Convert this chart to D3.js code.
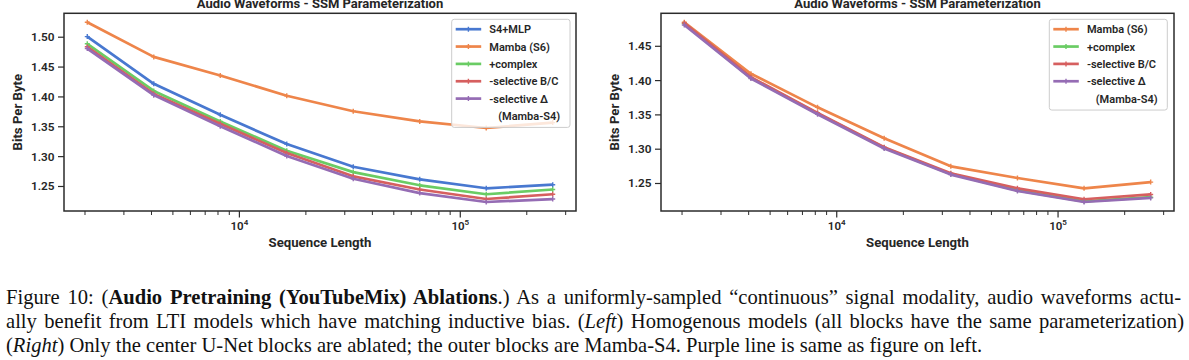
<!DOCTYPE html>
<html><head><meta charset="utf-8">
<script src="https://cdn.jsdelivr.net/npm/d3@7"></script>
<style>
html,body{margin:0;padding:0;background:#fff;}
svg{display:block;}
</style></head>
<body>
<svg id="c" width="1189" height="360"></svg>
<script>
// ---------------- data ----------------
const seqLen = [2048, 4096, 8192, 16384, 32768, 65536, 131072, 262144];

const leftNames = ["S4+MLP", "Mamba (S6)", "+complex", "-selective B/C", "-selective \u0394"];
const leftS4MLP   = [1.501, 1.422, 1.370, 1.321, 1.283, 1.262, 1.247, 1.253];
const leftMambaS6 = [1.525, 1.467, 1.436, 1.402, 1.376, 1.359, 1.348, 1.357];
const leftComplex = [1.489, 1.410, 1.359, 1.310, 1.274, 1.252, 1.237, 1.245];
const leftSelBC   = [1.484, 1.405, 1.355, 1.306, 1.267, 1.245, 1.229, 1.237];
const leftSelDelta= [1.481, 1.403, 1.351, 1.301, 1.263, 1.239, 1.224, 1.229];

const rightNames = ["Mamba (S6)", "+complex", "-selective B/C", "-selective \u0394"];
const rightMambaS6 = [1.485, 1.410, 1.361, 1.316, 1.275, 1.258, 1.243, 1.252];
const rightComplex = [1.483, 1.404, 1.352, 1.302, 1.264, 1.240, 1.224, 1.230];
const rightSelBC   = [1.484, 1.405, 1.353, 1.303, 1.265, 1.243, 1.227, 1.234];
const rightSelDelta= [1.481, 1.403, 1.351, 1.301, 1.263, 1.239, 1.223, 1.229];

const yTicksLeft  = [1.25, 1.30, 1.35, 1.40, 1.45, 1.50];
const yTicksRight = [1.25, 1.30, 1.35, 1.40, 1.45];
const xMajorTicks = [1e4, 1e5];

const titleText = "Audio Waveforms - SSM Parameterization";
const xLabel = "Sequence Length";
const yLabel = "Bits Per Byte";

const colBlue = "#4878d0", colOrange = "#ee854a", colGreen = "#6acc64", colRed = "#d65f5f", colPurple = "#956cb4";

// ---------------- drawing ----------------
const svg = d3.select("#c");
const FONT = "Roboto, 'Liberation Sans', Arial, sans-serif";

function panel(opts) {
  const {x0, x1, y0, y1, series, yTicks, legend} = opts;
  const g = svg.append("g");
  const allVals = series.flatMap(s => s.values);
  const lo = d3.min(allVals), hi = d3.max(allVals), m = (hi - lo) * 0.05;
  const y = d3.scaleLinear().domain([lo - m, hi + m]).range([y1, y0]);
  const lx0 = Math.log10(seqLen[0]), lx1 = Math.log10(seqLen[seqLen.length - 1]);
  const lm = (lx1 - lx0) * 0.05;
  const x = d3.scaleLog().domain([Math.pow(10, lx0 - lm), Math.pow(10, lx1 + lm)]).range([x0, x1]);

  // lines
  const line = d3.line().x((d, i) => x(seqLen[i])).y(d => y(d));
  series.forEach(s => {
    g.append("path").attr("d", line(s.values)).attr("fill", "none")
      .attr("stroke", s.color).attr("stroke-width", 2.7).attr("stroke-linejoin", "round");
    g.selectAll(null).data(s.values).enter().append("path")
      .attr("d", (d, i) => {
        const px = x(seqLen[i]), py = y(d);
        return `M${px-2.5},${py}H${px+2.5}M${px},${py-2.5}V${py+2.5}`;
      })
      .attr("stroke", s.color).attr("stroke-width", 1.4);
  });

  // frame
  g.append("rect").attr("x", x0).attr("y", y0).attr("width", x1 - x0).attr("height", y1 - y0)
    .attr("fill", "none").attr("stroke", "#2b2b2b").attr("stroke-width", 1.5);

  // x ticks
  const dom = x.domain();
  const minor = [];
  for (let e = 3; e <= 5; e++) for (let k = 2; k <= 9; k++) {
    const v = k * Math.pow(10, e);
    if (v >= dom[0] && v <= dom[1]) minor.push(v);
  }
  g.selectAll(null).data(minor).enter().append("line")
    .attr("x1", d => x(d)).attr("x2", d => x(d)).attr("y1", y1).attr("y2", y1 + 4)
    .attr("stroke", "#2b2b2b").attr("stroke-width", 1);
  g.selectAll(null).data(xMajorTicks).enter().append("line")
    .attr("x1", d => x(d)).attr("x2", d => x(d)).attr("y1", y1).attr("y2", y1 + 6.5)
    .attr("stroke", "#2b2b2b").attr("stroke-width", 1.2);
  const xt = g.selectAll(null).data(xMajorTicks).enter().append("text")
    .attr("x", d => x(d)).attr("y", y1 + 18.5).attr("text-anchor", "middle")
    .attr("font-family", FONT).attr("font-size", 11.5).attr("font-weight", 600).attr("fill", "#262626");
  xt.append("tspan").text("10");
  xt.append("tspan").attr("dy", -5).attr("font-size", 8).text(d => String(Math.round(Math.log10(d))));

  // y ticks
  g.selectAll(null).data(yTicks).enter().append("line")
    .attr("x1", x0 - 6).attr("x2", x0).attr("y1", d => y(d)).attr("y2", d => y(d))
    .attr("stroke", "#2b2b2b").attr("stroke-width", 1.2);
  g.selectAll(null).data(yTicks).enter().append("text")
    .attr("x", x0 - 9.5).attr("y", d => y(d) + 4).attr("text-anchor", "end")
    .attr("font-family", FONT).attr("font-size", 11.8).attr("font-weight", 600).attr("fill", "#262626")
    .text(d => d3.format(".2f")(d));

  // labels
  g.append("text").attr("x", (x0 + x1) / 2).attr("y", 7.5).attr("text-anchor", "middle")
    .attr("font-family", FONT).attr("font-size", 13).attr("font-weight", 700).attr("fill", "#262626")
    .text(titleText);
  g.append("text").attr("x", (x0 + x1) / 2).attr("y", 247).attr("text-anchor", "middle")
    .attr("font-family", FONT).attr("font-size", 13.2).attr("font-weight", 700).attr("fill", "#262626")
    .text(xLabel);
  g.append("text").attr("transform", `translate(${x0 - 42},${(y0 + y1) / 2}) rotate(-90)`)
    .attr("text-anchor", "middle")
    .attr("font-family", FONT).attr("font-size", 13.2).attr("font-weight", 700).attr("fill", "#262626")
    .text(yLabel);

  // legend
  const L = legend;
  const rowH = 17.35;
  const nRows = series.length + 1;
  g.append("rect").attr("x", L.x).attr("y", 19.3).attr("width", L.w).attr("height", nRows * rowH + 4)
    .attr("rx", 2.5).attr("fill", "#fff").attr("fill-opacity", 0.8)
    .attr("stroke", "#cccccc").attr("stroke-width", 1);
  series.forEach((s, i) => {
    const cy = 29.2 + i * rowH;
    g.append("line").attr("x1", L.x + 4).attr("x2", L.x + 29.5).attr("y1", cy).attr("y2", cy)
      .attr("stroke", s.color).attr("stroke-width", 2.7);
    g.append("path").attr("d", `M${L.x+16.7-2.5},${cy}H${L.x+16.7+2.5}M${L.x+16.7},${cy-2.5}V${cy+2.5}`)
      .attr("stroke", s.color).attr("stroke-width", 1.4);
    g.append("text").attr("x", L.x + 37.6).attr("y", cy + 4)
      .attr("font-family", FONT).attr("font-size", 11).attr("font-weight", 600).attr("fill", "#262626")
      .text(s.name);
  });
  g.append("text").attr("x", L.x + 46.5).attr("y", 29.2 + series.length * rowH + 4)
    .attr("font-family", FONT).attr("font-size", 11).attr("font-weight", 600).attr("fill", "#262626")
    .text("(Mamba-S4)");
}

panel({
  x0: 64, x1: 576, y0: 13.3, y1: 211,
  yTicks: yTicksLeft,
  legend: {x: 451.7, w: 118.3},
  series: [
    {name: leftNames[0], color: colBlue, values: leftS4MLP},
    {name: leftNames[1], color: colOrange, values: leftMambaS6},
    {name: leftNames[2], color: colGreen, values: leftComplex},
    {name: leftNames[3], color: colRed, values: leftSelBC},
    {name: leftNames[4], color: colPurple, values: leftSelDelta}
  ]
});
panel({
  x0: 661, x1: 1174, y0: 13.3, y1: 211,
  yTicks: yTicksRight,
  legend: {x: 1049.3, w: 118},
  series: [
    {name: rightNames[0], color: colOrange, values: rightMambaS6},
    {name: rightNames[1], color: colGreen, values: rightComplex},
    {name: rightNames[2], color: colRed, values: rightSelBC},
    {name: rightNames[3], color: colPurple, values: rightSelDelta}
  ]
});

// ---------------- caption ----------------
const SERIF = "'Liberation Serif', 'Times New Roman', serif";
const capLines = [
  [["Figure 10: (", ""], ["Audio Pretraining (YouTubeMix) Ablations", "b"], [".) As a uniformly-sampled \u201Ccontinuous\u201D signal modality, audio waveforms actu-", ""]],
  [["ally benefit from LTI models which have matching inductive bias. (", ""], ["Left", "i"], [") Homogenous models (all blocks have the same parameterization)", ""]],
  [["(", ""], ["Right", "i"], [") Only the center U-Net blocks are ablated; the outer blocks are Mamba-S4. Purple line is same as figure on left.", ""]]
];
const capBaselines = [304, 328, 352];
const capTargets = [1181, 1184, 983];
const capX = 6;
let fs = 18;
const cap = svg.append("g").attr("font-family", SERIF).attr("fill", "#111");
const texts = capLines.map((parts, li) => {
  const t = cap.append("text").attr("x", capX).attr("y", capBaselines[li]).attr("font-size", fs);
  parts.forEach(([s, st]) => {
    const ts = t.append("tspan").text(s);
    if (st === "b") ts.attr("font-weight", 700);
    if (st === "i") ts.attr("font-style", "italic");
  });
  return t;
});
// size from the natural (non-justified) last line
const w3 = texts[2].node().getComputedTextLength();
fs = fs * (capTargets[2] - capX) / w3;
texts.forEach(t => t.attr("font-size", fs));
// justify first two lines via word spacing
[0, 1].forEach(i => {
  const t = texts[i];
  const w = t.node().getComputedTextLength();
  const nSp = capLines[i].map(p => p[0]).join("").split(" ").length - 1;
  t.attr("word-spacing", (capTargets[i] - capX - w) / nSp);
});
</script>
</body></html>
